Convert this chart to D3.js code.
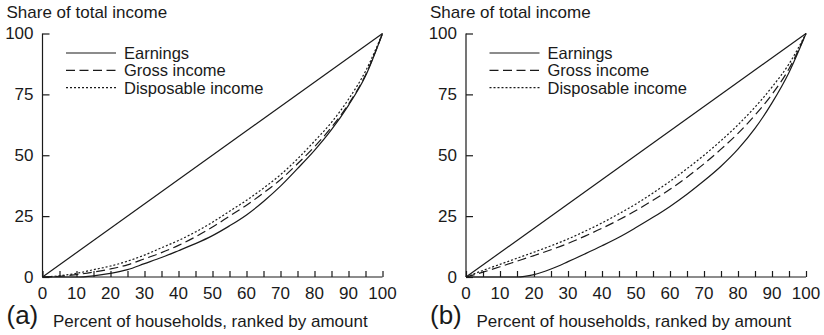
<!DOCTYPE html>
<html>
<head>
<meta charset="utf-8">
<script src="https://cdn.jsdelivr.net/npm/d3@7"></script>
<style>
  body { margin: 0; background: #fff; }
  text { font-family: "Liberation Sans", Arial, sans-serif; fill: #1a1a1a; }
</style>
</head>
<body>
<script>
// percent of households (x positions of the readings)
const households = [0, 5, 10, 15, 20, 25, 30, 35, 40, 45, 50, 55, 60, 65, 70, 75, 80, 85, 90, 95, 100];

// panel (a)
const earningsA = [0, 0, 0, 0.5, 1.5, 3, 5.5, 8, 10.8, 13.7, 17, 21, 25.5, 31, 37.3, 44.5, 52, 60.5, 70.5, 82.5, 100];
const grossA    = [0, 0.3, 1, 2, 3.3, 5, 7.5, 10, 13, 16.5, 20.5, 25, 29.5, 34.5, 40, 46.5, 53.5, 61.5, 71, 83, 100];
const dispA     = [0, 0.5, 1.5, 3, 4.5, 6.5, 9, 12, 15, 18.5, 22.5, 27, 31.5, 36.5, 42, 48.5, 55.8, 63.5, 73, 84.5, 100];

// panel (b)
const earningsB = [0, 0, 0, 0, 1, 3.3, 6.3, 9.5, 12.8, 16.3, 20.3, 24.5, 29, 34, 39.5, 45.5, 52.5, 61, 71.5, 84, 100];
const grossB    = [0, 2, 4.2, 6.5, 8.8, 11.2, 13.8, 16.8, 20, 23.5, 27.3, 31.5, 36, 41, 46.5, 52.5, 59, 66.5, 75, 85.5, 100];
const dispB     = [0, 2.7, 5.2, 7.7, 10.2, 12.8, 15.6, 18.8, 22.2, 26, 30, 34.5, 39.3, 44.5, 50, 56, 62.5, 69.8, 78, 87.5, 100];

// line of equality
const equality = [[0, 0], [100, 100]];

const xTicks = [0, 5, 10, 15, 20, 25, 30, 35, 40, 45, 50, 55, 60, 65, 70, 75, 80, 85, 90, 95, 100];
const yTicks = [0, 25, 50, 75, 100];
const legendNames = ["Earnings", "Gross income", "Disposable income"];
const dashes = [null, "9,4.5", "2,2"];

const width = 824, height = 335;
const svg = d3.select("body").append("svg")
  .attr("width", width)
  .attr("height", height);

const panels = [
  { left: 42.5, label: "(a)", series: [earningsA, grossA, dispA] },
  { left: 466, label: "(b)", series: [earningsB, grossB, dispB] }
];

const pw = 340, plotTop = 33.5, plotBottom = 277;

panels.forEach(p => {
  const g = svg.append("g").attr("transform", `translate(${p.left},0)`);
  const x = d3.scaleLinear().domain([0, 100]).range([0, pw]);
  const y = d3.scaleLinear().domain([0, 100]).range([plotBottom, plotTop]);

  // x axis, ticks pointing up
  const xa = g.append("g").attr("transform", `translate(0,${plotBottom})`)
    .call(d3.axisTop(x).tickValues(xTicks).tickSize(6).tickFormat(""));
  xa.select(".domain").attr("d", `M0,0H${pw}`);
  xa.selectAll("line, path").attr("stroke", "#1a1a1a").attr("stroke-width", 1.2);

  g.selectAll(".xlab").data(xTicks.filter(d => d % 10 === 0)).join("text")
    .attr("x", d => x(d))
    .attr("y", plotBottom + 21.5)
    .attr("text-anchor", "middle")
    .attr("font-size", 17)
    .text(d => d);

  // y axis, ticks pointing right
  const ya = g.append("g")
    .call(d3.axisRight(y).tickValues(yTicks).tickSize(7).tickFormat(""));
  ya.select(".domain").attr("d", `M0,${plotTop}V${plotBottom}`);
  ya.selectAll("line, path").attr("stroke", "#1a1a1a").attr("stroke-width", 1.2);

  g.selectAll(".ylab").data(yTicks).join("text")
    .attr("x", -9)
    .attr("y", d => y(d))
    .attr("dy", "0.35em")
    .attr("text-anchor", "end")
    .attr("font-size", 17)
    .text(d => d);

  g.append("text")
    .attr("x", -36)
    .attr("y", 18)
    .attr("font-size", 17)
    .text("Share of total income");

  g.append("text")
    .attr("x", -36)
    .attr("y", 324)
    .attr("font-size", 26)
    .text(p.label);

  g.append("text")
    .attr("x", 10.5)
    .attr("y", 327)
    .attr("font-size", 17)
    .text("Percent of households, ranked by amount");

  const line = d3.line()
    .x(d => x(d[0]))
    .y(d => y(d[1]))
    .curve(d3.curveMonotoneX);

  g.append("path")
    .attr("d", line(equality))
    .attr("fill", "none")
    .attr("stroke", "#1a1a1a")
    .attr("stroke-width", 1.2);

  p.series.forEach((s, i) => {
    g.append("path")
      .attr("d", line(households.map((h, j) => [h, s[j]])))
      .attr("fill", "none")
      .attr("stroke", "#1a1a1a")
      .attr("stroke-width", 1.2)
      .attr("stroke-dasharray", dashes[i]);
  });

  // legend
  const lg = g.append("g").attr("transform", "translate(23.5,53)");
  legendNames.forEach((name, i) => {
    lg.append("line")
      .attr("x1", 0).attr("x2", 50)
      .attr("y1", i * 17.3).attr("y2", i * 17.3)
      .attr("stroke", "#1a1a1a")
      .attr("stroke-width", 1.2)
      .attr("stroke-dasharray", dashes[i]);
    lg.append("text")
      .attr("x", 58)
      .attr("y", i * 17.3)
      .attr("dy", "0.36em")
      .attr("font-size", 16.5)
      .text(name);
  });
});
</script>
</body>
</html>
